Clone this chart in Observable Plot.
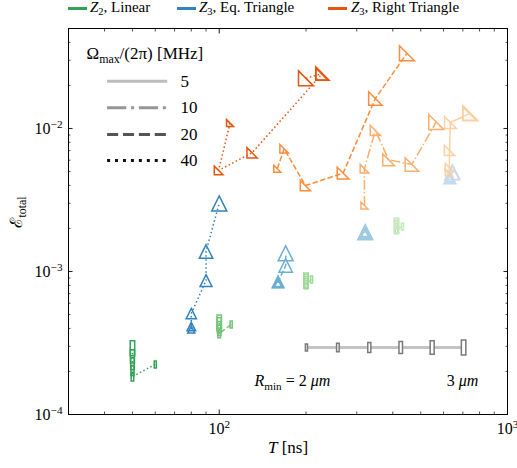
<!DOCTYPE html>
<html><head><meta charset="utf-8">
<script src="https://cdn.jsdelivr.net/npm/d3@7"></script>
<script src="https://cdn.jsdelivr.net/npm/@observablehq/plot@0.6"></script>
<style>
body{margin:0;background:#fff;}
#legend{position:relative;height:16px;width:517px;font-family:"Liberation Serif",serif;font-size:15px;color:#000;}
#legend .sw{position:absolute;top:7px;width:19px;height:3px;}
#legend .lt{position:absolute;top:0;line-height:15px;white-space:nowrap;}
#legend sub{font-size:70%;vertical-align:-0.25em;line-height:0;}
</style></head><body>
<div id="legend"></div>
<div id="chart"></div>
<script>
// ---------------- data ----------------
const Rmin = [2.0, 2.2, 2.4, 2.6, 2.8, 3.0];
const omegas = [5, 10, 20, 40];
const geometries = ["Z2, Linear", "Z3, Eq. Triangle", "Z3, Right Triangle"];

// Z2, Linear
const linT40 = [60, 50, 50, 50, 50, 50];
const linE40 = [2.24e-4, 1.84e-4, 2.03e-4, 2.27e-4, 2.55e-4, 2.90e-4];
const linT20 = [110, 100, 100, 100, 100, 100];
const linE20 = [4.26e-4, 3.68e-4, 3.87e-4, 4.06e-4, 4.26e-4, 4.40e-4];
const linT10 = [209, 200, 200, 200, 200, 200];
const linE10 = [8.79e-4, 8.11e-4, 8.24e-4, 8.37e-4, 8.51e-4, 8.65e-4];
const linT5 = [432, 412, 412, 412, 412, 412];
const linE5 = [2.06e-3, 1.97e-3, 2.00e-3, 2.03e-3, 2.06e-3, 2.10e-3];

// Z3, Eq. Triangle
const eqT40 = [80, 80, 80, 90, 90, 100];
const eqE40 = [3.93e-4, 4.12e-4, 5.08e-4, 8.65e-4, 1.38e-3, 2.99e-3];
const eqT20 = [160, 160, 160, 160, 170, 170];
const eqE20 = [8.3e-4, 8.35e-4, 8.4e-4, 8.45e-4, 1.10e-3, 1.34e-3];
const eqT10 = [320, 320, 320, 320, 321, 321];
const eqE10 = [1.86e-3, 1.86e-3, 1.87e-3, 1.87e-3, 1.88e-3, 1.88e-3];
const eqT5 = [631, 631, 631, 631, 644, 644];
const eqE5 = [4.5e-3, 4.5e-3, 4.52e-3, 4.52e-3, 4.9e-3, 4.95e-3];

// Z3, Right Triangle
const rtT40 = [109, 99.5, 130, 227, 228, 200];
const rtE40 = [0.0109, 5.09e-3, 6.76e-3, 0.0240, 0.0242, 0.0224];
const rtT20 = [159, 168, 199, 269, 348, 448];
const rtE20 = [5.23e-3, 7.21e-3, 3.99e-3, 4.87e-3, 0.0162, 0.0336];
const rtT10 = [319, 319, 348, 387, 466, 566];
const rtE10 = [2.89e-3, 5.23e-3, 9.7e-3, 6.04e-3, 5.60e-3, 0.0111];
const rtT5 = [626, 629, 629, 634, 738, 744];
const rtE5 = [4.92e-3, 5.34e-3, 7.02e-3, 0.0110, 0.0127, 0.0128];

// ticks
const xMajor = [100, 1000];
const xMinor = [40, 50, 60, 70, 80, 90, 200, 300, 400, 500, 600, 700, 800, 900];
const yMajor = [1e-4, 1e-3, 1e-2];
const yMinor = [2e-4, 3e-4, 4e-4, 5e-4, 6e-4, 7e-4, 8e-4, 9e-4, 2e-3, 3e-3, 4e-3, 5e-3, 6e-3, 7e-3, 8e-3, 9e-3, 2e-2, 3e-2, 4e-2, 5e-2];

// ---------------- styles ----------------
const palette = {
  "Z2, Linear": {40: "#31a354", 20: "#74c476", 10: "#a1d99b", 5: "#c7e9c0"},
  "Z3, Eq. Triangle": {40: "#3182bd", 20: "#6baed6", 10: "#9ecae1", 5: "#c6dbef"},
  "Z3, Right Triangle": {40: "#e6550d", 20: "#fd8d3c", 10: "#fdae6b", 5: "#fdd0a2"}
};
const legendGray = {5: "#bdbdbd", 10: "#969696", 20: "#555555", 40: "#111111"};
const dashSeries = {5: null, 10: "9.6,2.4,1.5,2.4", 20: "5.5,2.4", 40: "1.5,2.5"};
const dashLegend = {5: null, 10: "19.2,4.8,3,4.8", 20: "11.1,4.8", 40: "3,4.95"};

const series = [
  ["Z2, Linear", 40, linT40, linE40], ["Z2, Linear", 20, linT20, linE20],
  ["Z2, Linear", 10, linT10, linE10], ["Z2, Linear", 5, linT5, linE5],
  ["Z3, Eq. Triangle", 40, eqT40, eqE40], ["Z3, Eq. Triangle", 20, eqT20, eqE20],
  ["Z3, Eq. Triangle", 10, eqT10, eqE10], ["Z3, Eq. Triangle", 5, eqT5, eqE5],
  ["Z3, Right Triangle", 40, rtT40, rtE40], ["Z3, Right Triangle", 20, rtT20, rtE20],
  ["Z3, Right Triangle", 10, rtT10, rtE10], ["Z3, Right Triangle", 5, rtT5, rtE5]
];
const rows = [];
for (const [geom, omega, T, E] of series)
  T.forEach((t, i) => rows.push({geom, omega, R: Rmin[i], T: t, E: E[i]}));

// custom marker shapes (bbox-centred like matplotlib)
const hOf = size => Math.sqrt(size / Math.PI);
const triUp = {draw(c, s) { const h = hOf(s); c.moveTo(0, -h); c.lineTo(h, h); c.lineTo(-h, h); c.closePath(); }};
const triRight = {draw(c, s) { const h = hOf(s); c.moveTo(-h, -h); c.lineTo(-h, h); c.lineTo(h, h); c.closePath(); }};
const rectV = {draw(c, s) { const h = hOf(s), w = 0.3 * h; c.moveTo(-w, -h); c.lineTo(w, -h); c.lineTo(w, h); c.lineTo(-w, h); c.closePath(); }};
const symbols = {"Z2, Linear": rectV, "Z3, Eq. Triangle": triUp, "Z3, Right Triangle": triRight};

// axes-fraction helpers (for in-plot legends)
const xDom = [30, 1000], yDom = [1e-4, 0.05];
const ax = f => xDom[0] * Math.pow(xDom[1] / xDom[0], f);
const ay = f => yDom[0] * Math.pow(yDom[1] / yDom[0], f);

const font = "Liberation Serif";
const pow10 = d => "10^{" + String(Math.round(Math.log10(d))).replace("-", "−") + "}";

const marks = [];
// series lines
for (const w of omegas) {
  marks.push(Plot.line(rows.filter(d => d.omega === w), {
    x: "T", y: "E", z: "geom", stroke: d => palette[d.geom][d.omega],
    strokeWidth: 1.5, strokeDasharray: dashSeries[w], strokeLinecap: "butt", strokeLinejoin: "miter"
  }));
}
// markers
for (const g of geometries) {
  marks.push(Plot.dot(rows.filter(d => d.geom === g), {
    x: "T", y: "E", r: "R", symbol: symbols[g], fill: "none",
    stroke: d => palette[d.geom][d.omega], strokeWidth: 1.5
  }));
}
// Omega legend
const omegaRowsY = {5: 0.8635, 10: 0.7945, 20: 0.7254, 40: 0.658};
marks.push(Plot.text(["Ω_{max}/(2π) [MHz]"], {x: ax(0.041), y: ay(0.935), text: d => d, textAnchor: "start", fontSize: 17, letterSpacing: 0.6}));
for (const w of omegas) {
  marks.push(Plot.ruleY([w], {y: ay(omegaRowsY[w]), x1: ax(0.089), x2: ax(0.226), stroke: legendGray[w],
    strokeWidth: 3, strokeDasharray: dashLegend[w], strokeLinecap: "butt"}));
}
marks.push(Plot.text(omegas, {x: ax(0.255), y: w => ay(omegaRowsY[w]), text: w => String(w), textAnchor: "start", fontSize: 17}));
// size legend
marks.push(Plot.ruleY([0], {y: ay(0.1736), x1: ax(0.542), x2: ax(0.900), stroke: "#c4c4c4", strokeWidth: 3}));
marks.push(Plot.dot(Rmin, {x: R => ax(0.542 + (R - 2) * 0.358), y: ay(0.1736), r: R => R, symbol: rectV,
  fill: "white", stroke: "#7a7a7a", strokeWidth: 1.5}));
marks.push(Plot.text(["*R*_{min} = 2 *μm*"], {x: ax(0.510), y: ay(0.088), text: d => d, fontSize: 16}));
marks.push(Plot.text(["3 *μm*"], {x: ax(0.8975), y: ay(0.088), text: d => d, fontSize: 16}));
// frame and axes
marks.push(Plot.frame({stroke: "#000", strokeWidth: 1}));
for (const anchor of ["bottom", "top"]) {
  marks.push(Plot.axisX(xMajor, {anchor, tickSize: -4.5, fill: "none", label: null, stroke: "#000", strokeWidth: 0.9}));
  marks.push(Plot.axisX(xMinor, {anchor, tickSize: -2.5, fill: "none", label: null, stroke: "#000", strokeWidth: 0.7}));
}
for (const anchor of ["left", "right"]) {
  marks.push(Plot.axisY(yMajor, {anchor, tickSize: -4.5, fill: "none", label: null, stroke: "#000", strokeWidth: 0.9}));
  marks.push(Plot.axisY(yMinor, {anchor, tickSize: -2.5, fill: "none", label: null, stroke: "#000", strokeWidth: 0.7}));
}
marks.push(Plot.axisX(xMajor, {anchor: "bottom", tickSize: 0, tickPadding: 8, tickFormat: pow10, label: null, fontSize: 16}));
marks.push(Plot.axisY(yMajor, {anchor: "left", tickSize: 0, tickPadding: 6, tickFormat: pow10, label: null, fontSize: 16}));
marks.push(Plot.text(["*T* [ns]"], {frameAnchor: "bottom", dy: 38, text: d => d, fontSize: 17}));
marks.push(Plot.text(["ℰ_{total}"], {frameAnchor: "left", dx: -52, dy: 6, rotate: -90, text: d => d, fontSize: 17}));

const chart = Plot.plot({
  width: 517, height: 452,
  marginTop: 12, marginLeft: 68, marginRight: 10, marginBottom: 54,
  x: {type: "log", domain: xDom},
  y: {type: "log", domain: yDom},
  r: {type: "linear", domain: [2, 3], range: [3.5, 7.5]},
  color: {type: "identity"},
  style: {fontFamily: font, fontSize: "16px", background: "white", color: "black"},
  marks
});
document.getElementById("chart").appendChild(chart);

// rich text: *italic*, _{sub}, ^{sup}
function parseRich(s) {
  const out = []; let i = 0, buf = "", it = false;
  const push = (text, mode, ital) => { if (text) out.push({text, mode, ital}); };
  while (i < s.length) {
    const c = s[i];
    if ((c === "_" || c === "^") && s[i + 1] === "{") {
      push(buf, "n", it); buf = "";
      const j = s.indexOf("}", i + 2);
      push(s.slice(i + 2, j), c === "_" ? "sub" : "sup", false);
      i = j + 1;
    } else if (c === "*") { push(buf, "n", it); buf = ""; it = !it; i++; }
    else { buf += c; i++; }
  }
  push(buf, "n", it);
  return out;
}
chart.querySelectorAll("text").forEach(el => {
  const s = el.textContent;
  if (!/[_^]\{|\*/.test(s)) return;
  const fs = parseFloat(getComputedStyle(el).fontSize) || 16;
  const parts = parseRich(s);
  el.textContent = "";
  let shift = 0;
  for (const p of parts) {
    const t = document.createElementNS("http://www.w3.org/2000/svg", "tspan");
    const target = p.mode === "sup" ? -0.38 * fs : p.mode === "sub" ? 0.24 * fs : 0;
    const dy = target - shift; shift = target;
    if (dy) t.setAttribute("dy", dy.toFixed(2));
    if (p.mode !== "n") t.setAttribute("font-size", (0.7 * fs).toFixed(1));
    if (p.ital) t.setAttribute("font-style", "italic");
    t.textContent = p.text;
    el.appendChild(t);
  }
});

// top legend (HTML, above the SVG)
const topLegend = [
  {geom: "Z2, Linear", sw: 68, tx: 90, html: "<i>Z</i><sub>2</sub>, Linear"},
  {geom: "Z3, Eq. Triangle", sw: 177, tx: 199, html: "<i>Z</i><sub>3</sub>, Eq. Triangle"},
  {geom: "Z3, Right Triangle", sw: 328, tx: 351, html: "<i>Z</i><sub>3</sub>, Right Triangle"}
];
const leg = document.getElementById("legend");
for (const l of topLegend) {
  const s = document.createElement("span"); s.className = "sw"; s.style.left = l.sw + "px"; s.style.background = palette[l.geom][40];
  const t = document.createElement("span"); t.className = "lt"; t.style.left = l.tx + "px"; t.innerHTML = l.html;
  leg.appendChild(s); leg.appendChild(t);
}
</script>
</body></html>
